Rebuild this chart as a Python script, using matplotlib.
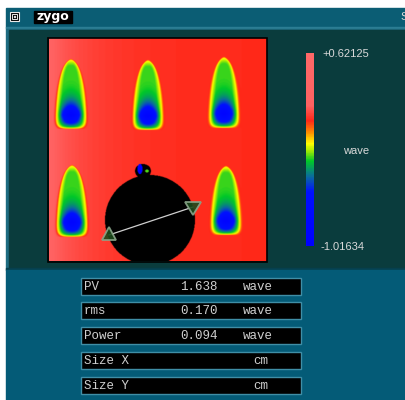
"""
Zygo surface map window: phase map of six etched pockets with a masked
aperture, wave colour scale on the right and the PV / rms results table.
"""

import numpy as np
import matplotlib
matplotlib.use("Agg")
import matplotlib.pyplot as plt
from matplotlib.colors import LinearSegmentedColormap, Normalize
from matplotlib.cm import ScalarMappable
from matplotlib.patches import Rectangle, Polygon

# Configuration

FIG_W, FIG_H = 406, 400

WAVE_MIN = -1.01634
WAVE_MAX = 0.62125

# pockets: centre x, top y, bottom y, half width (pixels of the map)
POCKET_X = [71, 148, 224, 72, 226]
POCKET_TOP = [59, 60, 57, 165, 166]
POCKET_BOTTOM = [129, 130, 128, 237, 235]
POCKET_HALF_W = [16.0, 15.5, 15.5, 16.0, 15.5]

# surface levels in wave
BACKGROUND_WAVE = 0.050
BACKGROUND_EDGE_WAVE = 0.190
RIM_WAVE = -0.115
FLOOR_WAVE = -0.99

# masked aperture and the small defect on its rim
MASK_X, MASK_Y, MASK_R = 150, 220, 45
DEFECT_X, DEFECT_Y = 140, 169

# measurement line between the two markers
LINE_X = [109, 193]
LINE_Y = [235, 207]

ROW_LABELS = ["PV", "rms", "Power", "Size X", "Size Y"]
ROW_VALUES = ["1.638", "0.170", "0.094", "", ""]
ROW_UNITS = ["wave", "wave", "wave", "cm", "cm"]

MAP_BOX = (49, 38, 267, 261)
BAR_BOX = (306, 53, 314, 246)

WINDOW_TEAL = "#0b5d74"
PANEL_DARK = "#0a3c3d"
RESULTS_TEAL = "#045b77"
TEXT_GREY = "#d9d9d9"


def fig_rect(x0, y0, x1, y1):
    """Convert a pixel box (top-left origin) to figure fractions."""
    return [x0 / FIG_W, 1 - y1 / FIG_H, (x1 - x0) / FIG_W, (y1 - y0) / FIG_H]


def zygo_cmap():
    """Blue - green - yellow - red scale with the pale red top band."""
    stops = [
        (0.00, "#0000ff"),
        (0.28, "#0010ff"),
        (0.36, "#0a6c9c"),
        (0.44, "#00c828"),
        (0.50, "#b4f000"),
        (0.53, "#ffff00"),
        (0.59, "#ff8a00"),
        (0.65, "#ff2818"),
        (0.73, "#ff6262"),
        (1.00, "#ff6868"),
    ]
    cmap = LinearSegmentedColormap.from_list("zygo", stops)
    cmap.set_bad("black")
    return cmap


def build_surface():
    """Build the phase map in wave on a half-pixel grid."""
    x0, y0, x1, y1 = MAP_BOX
    xs = np.arange(x0, x1, 0.5) + 0.25
    ys = np.arange(y0, y1, 0.5) + 0.25
    X, Y = np.meshgrid(xs, ys)

    surface = BACKGROUND_WAVE + (BACKGROUND_EDGE_WAVE - BACKGROUND_WAVE) * np.exp(-(X - x0) / 45.0)

    for cx, top, bottom, half_w in zip(POCKET_X, POCKET_TOP, POCKET_BOTTOM, POCKET_HALF_W):
        v = (Y - top) / (bottom - top)
        vc = np.clip(v, 1e-3, 1 - 1e-3)
        # ogive outline: rounded nose, near full width from half way down
        width = half_w * (1 - (1 - vc) ** 2.2) ** 0.5
        across = np.abs(X - cx) / width
        q = (across ** 4 + np.abs(2 * vc - 1) ** 10) ** 0.25
        q = np.where((v <= 0) | (v >= 1), 5.0, q)

        inner = np.clip(1 - q, 0, 1)
        rim_drop = np.clip(inner / 0.4, 0, 1)
        side = np.clip(1 - across ** 2, 0, 1) ** 2.2
        low = np.clip((1 - vc) / 0.25, 0, 1) ** 0.8
        depth = (np.clip(vc / 0.8, 0, 1) ** 5) * side * low
        floor_drop = 0.147
        pocket = (RIM_WAVE - floor_drop * rim_drop
                  + (FLOOR_WAVE - RIM_WAVE + floor_drop) * depth)

        weight = 1 / (1 + np.exp(-(1 - q) / 0.035))
        surface = surface * (1 - weight) + pocket * weight

    aperture = (X - MASK_X) ** 2 + (Y - MASK_Y) ** 2 <= MASK_R ** 2
    defect_edge = ((X - DEFECT_X - 3) / 8.0) ** 2 + ((Y - DEFECT_Y - 2) / 7.0) ** 2 <= 1
    surface[aperture | defect_edge] = np.nan

    defect_core = ((X - DEFECT_X) / 2.6) ** 2 + ((Y - DEFECT_Y) / 5.0) ** 2 <= 1
    surface[defect_core] = WAVE_MIN + 0.03
    defect_spot = ((X - DEFECT_X - 7) / 1.8) ** 2 + ((Y - DEFECT_Y - 2) / 1.4) ** 2 <= 1
    surface[defect_spot] = -0.25

    return surface


def draw_window(ax):
    """Window frame, title bar and the two panels."""
    ax.add_patch(Rectangle((6, 8), FIG_W - 6, 20, color=WINDOW_TEAL, zorder=0))
    ax.add_patch(Rectangle((6, 27), FIG_W - 6, 2, color="#2b7d93", zorder=0))
    ax.add_patch(Rectangle((6, 29), FIG_W - 6, 241, color="#1d6b80", zorder=0))
    ax.add_patch(Rectangle((9, 30), FIG_W - 9, 238, color=PANEL_DARK, zorder=0))
    ax.add_patch(Rectangle((6, 268), FIG_W - 6, 2, color="#06404e", zorder=0))
    ax.add_patch(Rectangle((6, 270), FIG_W - 6, 130, color=RESULTS_TEAL, zorder=0))

    # close box icon
    ax.add_patch(Rectangle((10, 12), 9, 9, facecolor="black", edgecolor="#e8e8e8", lw=0.8, zorder=1))
    ax.add_patch(Rectangle((12, 14), 5, 5, facecolor="none", edgecolor="#e8e8e8", lw=0.7, zorder=2))
    ax.add_patch(Rectangle((13.8, 15.8), 1.4, 1.4, color="#e8e8e8", zorder=3))

    ax.add_patch(Rectangle((34, 11), 38, 12, color="black", zorder=1))
    ax.text(53, 16.5, "zygo", color="white", fontsize=9, fontweight="bold",
            family="DejaVu Sans", ha="center", va="center", zorder=2)
    ax.text(400, 17, "S", color=TEXT_GREY, fontsize=8, family="Liberation Sans",
            ha="left", va="center", zorder=2)


def draw_map(ax, cmap, norm):
    """Phase map, frame and the measurement markers."""
    x0, y0, x1, y1 = MAP_BOX
    ax.imshow(build_surface(), cmap=cmap, norm=norm, extent=(x0, x1, y1, y0),
              interpolation="bilinear", aspect="auto", zorder=2)
    ax.add_patch(Rectangle((x0 - 0.5, y0 - 0.5), x1 - x0 + 1, y1 - y0 + 1,
                           fill=False, edgecolor="black", lw=1.2, zorder=3))

    ax.plot(LINE_X, LINE_Y, color="#d0d0d0", lw=0.9, zorder=4)
    left = [(LINE_X[0], LINE_Y[0] - 8), (LINE_X[0] - 7, LINE_Y[0] + 5), (LINE_X[0] + 7, LINE_Y[0] + 5)]
    right = [(LINE_X[1], LINE_Y[1] + 8), (LINE_X[1] - 8, LINE_Y[1] - 5), (LINE_X[1] + 8, LINE_Y[1] - 5)]
    for tri in (left, right):
        ax.add_patch(Polygon(tri, closed=True, facecolor="#1c4a1c", edgecolor="#8aa58a",
                             lw=1.3, alpha=0.9, zorder=5))


def draw_scale(fig, ax, cmap, norm):
    """Colour scale with its end values."""
    cax = fig.add_axes(fig_rect(*BAR_BOX))
    cb = fig.colorbar(ScalarMappable(norm=norm, cmap=cmap), cax=cax)
    cb.set_ticks([])
    cb.outline.set_visible(False)

    ax.text(322, 54, f"+{WAVE_MAX:.5f}", color=TEXT_GREY, fontsize=8,
            family="Liberation Sans", ha="left", va="center", zorder=3)
    ax.text(321, 247, f"{WAVE_MIN:.5f}", color=TEXT_GREY, fontsize=8,
            family="Liberation Sans", ha="left", va="center", zorder=3)
    ax.text(343, 151, "wave", color=TEXT_GREY, fontsize=8,
            family="Liberation Sans", ha="left", va="center", zorder=3)


def draw_results(ax):
    """PV / rms / Power / size table."""
    row_tops = [278, 302, 327, 352, 377]
    for top, label, value, unit in zip(row_tops, ROW_LABELS, ROW_VALUES, ROW_UNITS):
        ax.add_patch(Rectangle((81, top), 220, 17, facecolor="black",
                               edgecolor="#3f8ea6", lw=1.0, zorder=2))
        mid = top + 9
        ax.text(84, mid, label, color="#d0d0d0", fontsize=9,
                family="Liberation Mono", ha="left", va="center", zorder=3)
        if value:
            ax.text(218, mid, value, color="#d0d0d0", fontsize=9,
                    family="Liberation Mono", ha="right", va="center", zorder=3)
        unit_x = 243 if unit == "wave" else 253
        ax.text(unit_x, mid, unit, color="#d0d0d0", fontsize=9,
                family="Liberation Mono", ha="left", va="center", zorder=3)


def main():
    fig = plt.figure(figsize=(FIG_W / 100, FIG_H / 100), dpi=100)
    fig.patch.set_facecolor("white")

    ax = fig.add_axes([0, 0, 1, 1])
    ax.set_xlim(0, FIG_W)
    ax.set_ylim(FIG_H, 0)
    ax.axis("off")

    cmap = zygo_cmap()
    norm = Normalize(vmin=WAVE_MIN, vmax=WAVE_MAX)

    draw_window(ax)
    draw_map(ax, cmap, norm)
    draw_scale(fig, ax, cmap, norm)
    draw_results(ax)

    ax.set_xlim(0, FIG_W)
    ax.set_ylim(FIG_H, 0)
    fig.savefig("out.png", dpi=100)
    plt.close(fig)


if __name__ == "__main__":
    main()
